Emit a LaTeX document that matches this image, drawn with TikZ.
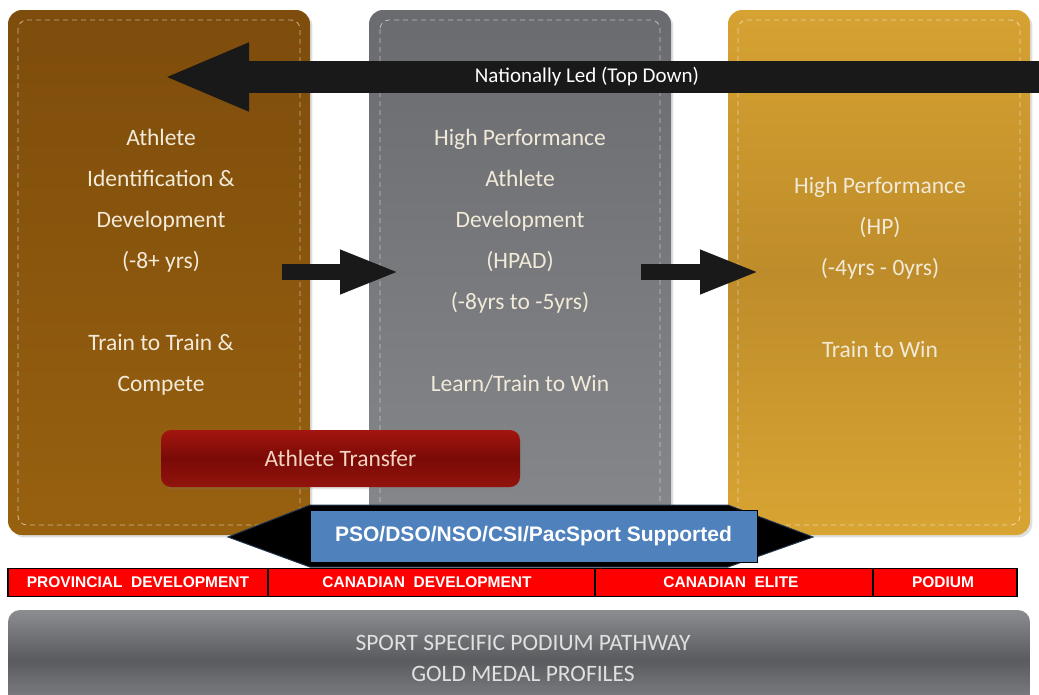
\documentclass[tikz,border=0pt]{standalone}
\usepackage{fontspec}
\setmainfont{Carlito}
\newfontfamily\arialf{Liberation Sans}
\usetikzlibrary{arrows.meta,shadows}
\definecolor{brownT}{HTML}{7E4C0C}
\definecolor{brownB}{HTML}{97610F}
\definecolor{grayT}{HTML}{6A6B6F}
\definecolor{grayB}{HTML}{86878B}
\definecolor{goldT}{HTML}{D6A232}
\definecolor{goldM}{HTML}{BE8C2A}
\definecolor{goldB}{HTML}{D8A533}
\definecolor{redT}{HTML}{A3160F}
\definecolor{redM}{HTML}{7A0A06}
\definecolor{blueS}{HTML}{4F81BD}
\definecolor{txtL}{HTML}{F2EAD8}
\tikzset{
  pillar/.style={rounded corners=14pt, minimum width=302pt, inner sep=0pt, draw=none},
  stitch/.style={draw=white, draw opacity=0.55, line width=0.8pt, dash pattern=on 5pt off 4pt, rounded corners=9pt},
  boxtext/.style={text=txtL, font=\fontsize{23.5}{41}\selectfont, align=center},
  band/.style={fill=red, draw=black, line width=1.2pt},
  bandtext/.style={text=white, font=\arialf\bfseries\fontsize{15.5}{16}\selectfont},
}
\begin{document}
\begin{tikzpicture}[x=1pt,y=-1pt]
\useasboundingbox (0,0) rectangle (1039,694);
% pillars
\node[pillar, minimum height=525pt, top color=brownT, bottom color=brownB, drop shadow={opacity=0.25}] (p1) at (159,272.5) {};
\node[pillar, minimum height=512pt, top color=grayT, bottom color=grayB, drop shadow={opacity=0.25}] (p2) at (520,266) {};
\node[pillar, minimum height=525pt, top color=goldT, bottom color=goldB, middle color=goldM, drop shadow={opacity=0.25}] (p3) at (879,272.5) {};
\draw[stitch] (18,20) rectangle (300,525);
\draw[stitch] (380,20) rectangle (660,525);
\draw[stitch] (738,20) rectangle (1020,525);
% texts
\node[boxtext] (t1) at (161,262) {Athlete\\Identification \&\\Development\\(-8+ yrs)\\[41pt]Train to Train \&\\Compete};
\node[boxtext] (t2) at (520,261) {High Performance\\Athlete\\Development\\(HPAD)\\(-8yrs to -5yrs)\\[41pt]Learn/Train to Win};
\node[boxtext] (t3) at (880,267) {High Performance\\(HP)\\(-4yrs - 0yrs)\\[41pt]Train to Win};
% nationally led arrow
\coordinate (nlR) at (1045,77);
\coordinate (nlL) at (163,77);
\draw[line width=32pt, color=black!90, -{Triangle[length=86pt,width=62pt]}] (nlR) -- (nlL);
\node[text=white, font=\fontsize{21}{24}\selectfont] (nl) at (587,77) {Nationally Led (Top Down)};
% horizontal arrows
\coordinate (a1s) at (282,272);
\coordinate (a1e) at (400,272);
\coordinate (a2s) at (641,272);
\coordinate (a2e) at (760,272);
\draw[line width=16pt, color=black!90, -{Triangle[length=60pt,width=40pt]}] (a1s) -- (a1e);
\draw[line width=16pt, color=black!90, -{Triangle[length=60pt,width=40pt]}] (a2s) -- (a2e);
% athlete transfer
\node[rounded corners=10pt, minimum width=359pt, minimum height=57pt, top color=redT, bottom color=redT!90!black, middle color=redM, drop shadow={opacity=0.2}, text=txtL!90!red, font=\fontsize{23.5}{26}\selectfont] (at) at (340.5,458.5) {Athlete Transfer};
% double-headed support arrow
\fill[black, draw=blueS!40!black, line width=1pt] (228,537) -- (310,505) -- (728,505) -- (813,537) -- (728,567) -- (310,567) -- cycle;
\node[fill=blueS, draw=black, line width=1pt, minimum width=447pt, minimum height=52pt, text=white, font=\arialf\bfseries\fontsize{21}{24}\selectfont] (ps) at (533.5,536) {PSO/DSO/NSO/CSI/PacSport Supported};
% red band
\node[band, minimum width=260pt, minimum height=28pt, inner sep=0pt] (r1) at (138,582.5) {};
\node[band, minimum width=327pt, minimum height=28pt, inner sep=0pt] (r2) at (431.5,582.5) {};
\node[band, minimum width=278pt, minimum height=28pt, inner sep=0pt] (r3) at (734,582.5) {};
\node[band, minimum width=144pt, minimum height=28pt, inner sep=0pt] (r4) at (945,582.5) {};
\node[bandtext] (rt1) at (r1) {PROVINCIAL\ \ DEVELOPMENT};
\node[bandtext] (rt2) at (427,582.5) {CANADIAN\ \ DEVELOPMENT};
\node[bandtext] (rt3) at (731,582.5) {CANADIAN\ \ ELITE};
\node[bandtext] (rt4) at (943,582.5) {PODIUM};
% bottom bar
\shade[top color=grayB!95!white, bottom color=grayB, middle color=grayT!85!black, rounded corners=12pt] (8,610) rectangle (1030,710);
\node[text=black!12, font=\fontsize{23.5}{31}\selectfont, align=center] (bb) at (523,658) {SPORT SPECIFIC PODIUM PATHWAY\\GOLD MEDAL PROFILES};
\end{tikzpicture}
\end{document}
